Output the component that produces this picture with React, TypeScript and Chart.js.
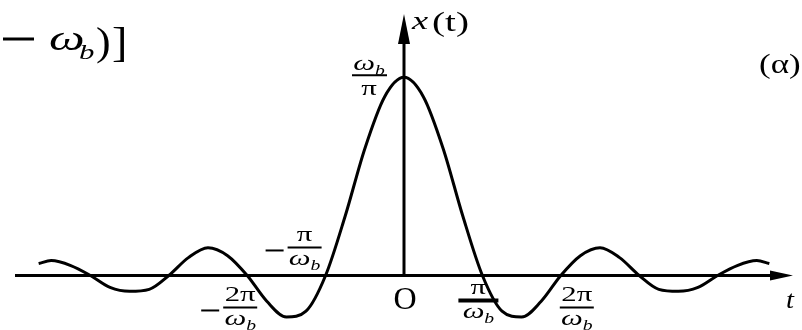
import { useEffect, useRef } from "react";
import { Chart, registerables } from "chart.js";

Chart.register(...registerables);

// Time axis in units of π/ω_b, signal normalised to its peak ω_b/π
const tPoints = [
  -4.66, -4.5, -4.25, -4, -3.75, -3.5, -3.25, -3, -2.75, -2.5, -2.25, -2,
  -1.75, -1.5, -1.25, -1, -0.75, -0.5, -0.25, 0, 0.25, 0.5, 0.75, 1, 1.25,
  1.5, 1.75, 2, 2.25, 2.5, 2.75, 3, 3.25, 3.5, 3.75, 4, 4.25, 4.5, 4.66,
];
const xPoints = [
  0.06, 0.075, 0.05, 0, -0.06, -0.08, -0.07, 0, 0.09, 0.14, 0.1, 0,
  -0.13, -0.21, -0.18, 0, 0.3, 0.64, 0.9, 1, 0.9, 0.64, 0.3, 0, -0.18,
  -0.21, -0.13, 0, 0.1, 0.14, 0.09, 0, -0.07, -0.08, -0.06, 0, 0.05, 0.075, 0.06,
];

// Tick fractions: multiple of π over ω_b
const tickMultiples = [-2, -1, 1, 2];
const tickNumerators = ["2π", "π", "π", "2π"];

const SERIF = '"Liberation Serif", "DejaVu Serif", serif';
const SX = 1.4;

function txt(
  ctx: CanvasRenderingContext2D,
  s: string,
  x: number,
  y: number,
  size: number,
  italic: boolean,
  align: CanvasTextAlign = "left",
  sx = SX
) {
  ctx.save();
  ctx.translate(x, y);
  ctx.scale(sx, 1);
  ctx.font = `${italic ? "italic " : ""}${size}px ${SERIF}`;
  ctx.textAlign = align;
  ctx.textBaseline = "alphabetic";
  ctx.fillStyle = "#000";
  ctx.fillText(s, 0, 0);
  ctx.restore();
}

function measure(ctx: CanvasRenderingContext2D, s: string, size: number, italic: boolean) {
  ctx.save();
  ctx.font = `${italic ? "italic " : ""}${size}px ${SERIF}`;
  const w = ctx.measureText(s).width;
  ctx.restore();
  return w * SX;
}

// "ω" with a subscript "b", centred on cx
function omegaB(ctx: CanvasRenderingContext2D, cx: number, base: number, size: number) {
  const sub = Math.round(size * 0.62);
  const w1 = measure(ctx, "ω", size, true);
  const w2 = measure(ctx, "b", sub, true);
  const left = cx - (w1 + w2) / 2;
  txt(ctx, "ω", left, base, size, true);
  txt(ctx, "b", left + w1, base + size * 0.22, sub, true);
}

function fraction(
  ctx: CanvasRenderingContext2D,
  cx: number,
  lineY: number,
  halfW: number,
  num: string,
  minus: boolean,
  lineW = 2
) {
  ctx.save();
  ctx.strokeStyle = "#000";
  ctx.lineWidth = lineW;
  ctx.beginPath();
  ctx.moveTo(cx - halfW, lineY);
  ctx.lineTo(cx + halfW, lineY);
  ctx.stroke();
  if (minus) {
    ctx.lineWidth = 2;
    ctx.beginPath();
    ctx.moveTo(cx - halfW - 22, lineY + 3);
    ctx.lineTo(cx - halfW - 4, lineY + 3);
    ctx.stroke();
  }
  ctx.restore();
  txt(ctx, num, cx, lineY - 6, 22, false, "center");
  omegaB(ctx, cx, lineY + 18, 22);
}

const axesPlugin = {
  id: "signalAxes",
  beforeDatasetsDraw(chart: any) {
    const { ctx, scales } = chart;
    const xs = scales.x;
    const ys = scales.y;
    const x0 = xs.getPixelForValue(0);
    const y0 = ys.getPixelForValue(0);
    ctx.save();
    ctx.strokeStyle = "#000";
    ctx.fillStyle = "#000";
    ctx.lineWidth = 3;
    // horizontal t axis with arrow
    ctx.beginPath();
    ctx.moveTo(15, y0);
    ctx.lineTo(776, y0);
    ctx.stroke();
    ctx.beginPath();
    ctx.moveTo(793, y0);
    ctx.lineTo(770, y0 - 5);
    ctx.lineTo(770, y0 + 5);
    ctx.closePath();
    ctx.fill();
    // vertical x(t) axis with arrow
    ctx.beginPath();
    ctx.moveTo(x0, y0);
    ctx.lineTo(x0, 40);
    ctx.stroke();
    ctx.beginPath();
    ctx.moveTo(x0, 14);
    ctx.lineTo(x0 - 6, 44);
    ctx.lineTo(x0 + 6, 44);
    ctx.closePath();
    ctx.fill();
    ctx.restore();
  },
  afterDraw(chart: any) {
    const { ctx, scales } = chart;
    const xs = scales.x;
    const ys = scales.y;
    const x0 = xs.getPixelForValue(0);
    const y0 = ys.getPixelForValue(0);
    const yPeak = ys.getPixelForValue(1);

    // peak value ω_b / π
    ctx.save();
    ctx.strokeStyle = "#000";
    ctx.lineWidth = 2;
    ctx.beginPath();
    ctx.moveTo(x0 - 52, yPeak - 2);
    ctx.lineTo(x0 - 17, yPeak - 2);
    ctx.stroke();
    ctx.restore();
    omegaB(ctx, x0 - 35, yPeak - 7, 22);
    txt(ctx, "π", x0 - 35, yPeak + 18, 22, false, "center");

    // zero-crossing tick fractions
    tickMultiples.forEach((m, i) => {
      const px = xs.getPixelForValue(m);
      const num = tickNumerators[i];
      if (m === -1) fraction(ctx, px - 21, y0 - 28, 17, num, true);
      else if (m === -2) fraction(ctx, px - 7, y0 + 32, 17, num, true);
      else if (m === 1) fraction(ctx, px - 4, y0 + 25, 20, num, false, 4);
      else fraction(ctx, px + 16, y0 + 32, 17, num, false);
    });

    // origin and axis names
    txt(ctx, "O", x0 + 1, y0 + 34, 32, false, "center", 1);
    txt(ctx, "t", 786, y0 + 33, 26, true, "left", 1.1);
    txt(ctx, "x", x0 + 8, 29, 26, true);
    txt(ctx, "(t)", x0 + 28, 31, 28, false);
    txt(ctx, "(α)", 759, 73, 28, false, "left", 1.25);

    // tail of the preceding expression
    ctx.save();
    ctx.strokeStyle = "#000";
    ctx.lineWidth = 3;
    ctx.beginPath();
    ctx.moveTo(3, 39);
    ctx.lineTo(34, 39);
    ctx.stroke();
    ctx.restore();
    txt(ctx, "ω", 49, 50, 36, true);
    txt(ctx, "b", 79, 59, 22, true);
    txt(ctx, ")", 96, 55, 40, false, "left", 1.1);
    txt(ctx, "]", 112, 56, 42, false, "left", 1.1);
  },
};

export default function App() {
  const ref = useRef<HTMLCanvasElement>(null);
  useEffect(() => {
    document.body.style.margin = "0";
    const chart = new Chart(ref.current!, {
      type: "line",
      data: {
        datasets: [
          {
            data: tPoints.map((t, i) => ({ x: t, y: xPoints[i] })),
            borderColor: "#000",
            borderWidth: 3,
            pointRadius: 0,
            fill: false,
            cubicInterpolationMode: "monotone",
          },
        ],
      },
      options: {
        responsive: false,
        maintainAspectRatio: false,
        animation: false,
        layout: { padding: { left: 12, right: 6, top: 8, bottom: 5 } },
        scales: {
          x: { type: "linear", min: -5, max: 5, display: false },
          y: { min: -0.25, max: 1.35, display: false },
        },
        plugins: { legend: { display: false }, tooltip: { enabled: false } },
      },
      plugins: [axesPlugin],
    });
    return () => chart.destroy();
  }, []);
  return <canvas ref={ref} width={802} height={330} style={{ display: "block" }} />;
}
